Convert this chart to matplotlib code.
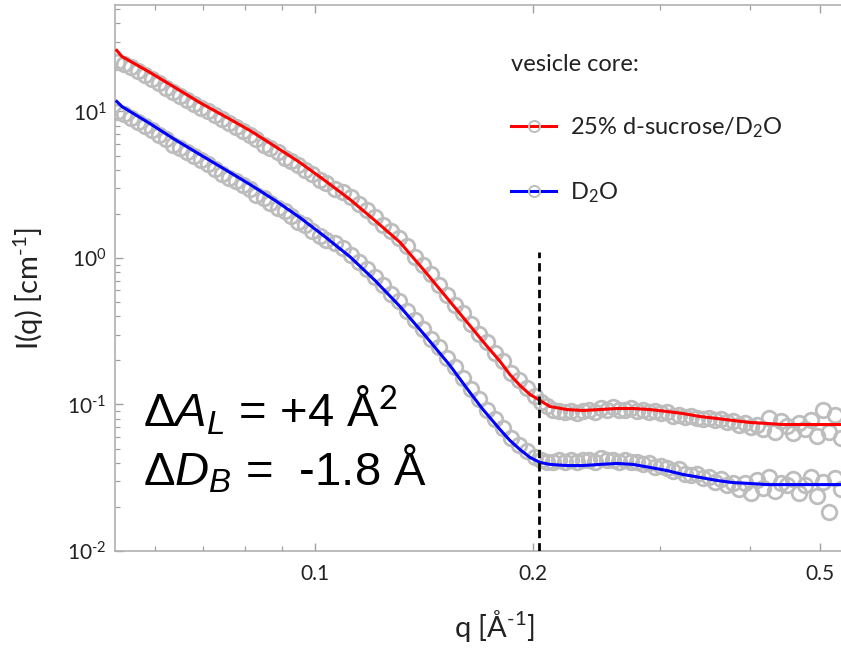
import numpy as np
import matplotlib
matplotlib.use("Agg")
import matplotlib.pyplot as plt
from matplotlib.lines import Line2D
from matplotlib.ticker import FixedLocator, NullFormatter

plt.rcParams['font.family'] = ['Lato', 'DejaVu Sans']
plt.rcParams['mathtext.fontset'] = 'custom'
plt.rcParams['mathtext.rm'] = 'Lato'
plt.rcParams['mathtext.it'] = 'Liberation Sans:italic'
plt.rcParams['mathtext.bf'] = 'Lato:bold'

# measured SANS data (shared q grid)
q_data = [0.0532, 0.0544, 0.0556, 0.0569, 0.0582, 0.0595, 0.0608, 0.0622, 0.0636, 0.0650,
          0.0665, 0.0680, 0.0695, 0.0711, 0.0727, 0.0743, 0.0760, 0.0777, 0.0794, 0.0812,
          0.0830, 0.0849, 0.0868, 0.0888, 0.0908, 0.0928, 0.0949, 0.0970, 0.0992, 0.1015,
          0.1037,
          0.1066, 0.1093, 0.1122, 0.1151, 0.1180, 0.1211, 0.1242, 0.1274, 0.1307, 0.1340,
          0.1375, 0.1410, 0.1447, 0.1484, 0.1522, 0.1562, 0.1602, 0.1643, 0.1686, 0.1729,
          0.1774, 0.1820, 0.1867, 0.1915, 0.1964, 0.2015,
          0.2054, 0.2094, 0.2134, 0.2175, 0.2217, 0.2260, 0.2304, 0.2348, 0.2394, 0.2440,
          0.2487, 0.2535, 0.2584, 0.2634, 0.2685, 0.2737, 0.2790, 0.2843, 0.2898, 0.2954,
          0.3011, 0.3069, 0.3129, 0.3189, 0.3251, 0.3313, 0.3377, 0.3443, 0.3509, 0.3577,
          0.3646, 0.3716, 0.3788, 0.3861, 0.3936, 0.4012, 0.4089, 0.4168, 0.4249, 0.4331,
          0.4414, 0.4499, 0.4586, 0.4675, 0.4765, 0.4857, 0.4951, 0.5046, 0.5144, 0.5243,
          0.5344]

I_sucrose = [21.61, 20.94, 19.97, 18.75, 17.61, 16.54, 15.53, 14.35, 13.48, 12.66,
             11.89, 11.16, 10.48, 10.00, 9.39, 8.82, 8.28, 7.78, 7.30, 6.86,
             6.44, 5.95, 5.59, 5.25, 4.85, 4.56, 4.28, 3.96, 3.72, 3.43,
             3.23,
             2.98, 2.80, 2.59, 2.32, 2.11, 1.89, 1.69, 1.52, 1.36, 1.20,
             1.02, 0.889, 0.772, 0.659, 0.563, 0.481, 0.418, 0.357, 0.305, 0.265,
             0.226, 0.197, 0.165, 0.146, 0.129, 0.115,
             0.1048, 0.0969, 0.0924, 0.0896, 0.0882, 0.0896, 0.0868, 0.0896, 0.0910, 0.0882,
             0.0939, 0.0924, 0.0954, 0.0924, 0.0910, 0.0939, 0.0896, 0.0910, 0.0882, 0.0896,
             0.0868, 0.0882, 0.0841, 0.0854, 0.0828, 0.0841, 0.0815, 0.0790, 0.0803, 0.0778,
             0.0790, 0.0754, 0.0766, 0.0719, 0.0742, 0.0697, 0.0730, 0.0675, 0.0803, 0.0644,
             0.0766, 0.0708, 0.0634, 0.0742, 0.0675, 0.0778, 0.0614, 0.0924, 0.0654, 0.0854,
             0.0595]

I_d2o = [9.84, 9.54, 8.96, 8.41, 7.90, 7.42, 6.86, 6.44, 5.95, 5.59,
         5.25, 4.93, 4.63, 4.35, 4.02, 3.77, 3.54, 3.33, 3.13, 2.94,
         2.71, 2.55, 2.39, 2.21, 2.08, 1.92, 1.77, 1.67, 1.54, 1.42,
         1.32,
         1.256, 1.161, 1.056, 0.946, 0.835, 0.736, 0.649, 0.572, 0.505, 0.438,
         0.380, 0.330, 0.282, 0.245, 0.209, 0.179, 0.1505, 0.1266, 0.1082, 0.0924,
         0.0790, 0.0686, 0.0595, 0.0525, 0.0478, 0.0435,
         0.0415, 0.0402, 0.0408, 0.0415, 0.0402, 0.0421, 0.0408, 0.0415, 0.0421, 0.0408,
         0.0428, 0.0415, 0.0421, 0.0408, 0.0415, 0.0402, 0.0408, 0.0390, 0.0396, 0.0377,
         0.0383, 0.0366, 0.0354, 0.0360, 0.0338, 0.0328, 0.0333, 0.0313, 0.0318, 0.0298,
         0.0308, 0.0280, 0.0293, 0.0263, 0.0289, 0.0247, 0.0303, 0.0271, 0.0318, 0.0255,
         0.0293, 0.0280, 0.0308, 0.0247, 0.0284, 0.0318, 0.0239, 0.0298, 0.0186, 0.0313,
         0.0263]

# model fits
q_fit = [0.0532, 0.0541, 0.0591, 0.0640, 0.0693, 0.0751, 0.0813, 0.0881, 0.0953, 0.1032,
         0.1118, 0.1211, 0.1311, 0.1420, 0.1537, 0.1638, 0.1708, 0.1803, 0.1861, 0.1921,
         0.1984, 0.2048, 0.2113, 0.2231, 0.2348, 0.2479, 0.2617, 0.2754, 0.2906, 0.3068,
         0.3228, 0.3408, 0.3597, 0.3786, 0.3997, 0.4220, 0.4440, 0.4687, 0.4994, 0.5340]

fit_sucrose = [26.1, 23.7, 18.5, 14.6, 11.5, 9.25, 7.42, 5.77, 4.49, 3.38,
               2.51, 1.80, 1.28, 0.809, 0.505, 0.346, 0.269, 0.197, 0.160, 0.135,
               0.117, 0.1065, 0.0969, 0.0924, 0.0910, 0.0924, 0.0939, 0.0939, 0.0924, 0.0896,
               0.0868, 0.0828, 0.0803, 0.0778, 0.0754, 0.0742, 0.0730, 0.0730, 0.0730, 0.0730]

fit_d2o = [11.7, 10.8, 8.28, 6.44, 5.09, 4.02, 3.18, 2.47, 1.89, 1.40,
           1.02, 0.702, 0.467, 0.296, 0.185, 0.121, 0.0924, 0.0675, 0.0568, 0.0493,
           0.0435, 0.0402, 0.0390, 0.0383, 0.0383, 0.0390, 0.0396, 0.0390, 0.0372, 0.0354,
           0.0333, 0.0318, 0.0303, 0.0293, 0.0289, 0.0284, 0.0284, 0.0284, 0.0284, 0.0284]

q_cut = 0.204
cut_top = 1.09

grey = '#bdbdbd'

fig = plt.figure(figsize=(8.41, 6.49), dpi=100)
ax = fig.add_axes([115/841, 98/649, 730/841, 546/649])

ax.plot(q_data, I_sucrose, 'o', mfc='none', mec=grey, ms=10.5, mew=2.0, zorder=2)
ax.plot(q_data, I_d2o, 'o', mfc='none', mec=grey, ms=10.5, mew=2.0, zorder=2)
ax.plot(q_fit, fit_sucrose, color='#ff0000', lw=2.2, zorder=3)
ax.plot(q_fit, fit_d2o, color='#0000ff', lw=2.2, zorder=3)
ax.plot([q_cut, q_cut], [0.01, cut_top], color='black', lw=2.0, ls=(0, (3.0, 1.8)), zorder=4)

ax.set_xscale('log')
ax.set_yscale('log')
ax.set_xlim(0.0529, 0.541)
ax.set_ylim(0.01, 53.3)

ax.xaxis.set_major_locator(FixedLocator([0.1, 0.2, 0.5]))
ax.xaxis.set_minor_locator(FixedLocator([0.06, 0.07, 0.08, 0.09, 0.3, 0.4]))
ax.xaxis.set_minor_formatter(NullFormatter())
ax.set_xticklabels(['0.1', '0.2', '0.5'])
ax.set_yticks([0.01, 0.1, 1, 10])
ax.set_yticklabels([r'10$^{\text{-}2}$', r'10$^{\text{-}1}$', '10$^{0}$', '10$^{1}$'])

for s in ax.spines.values():
    s.set_color('#b0b0b0')
    s.set_linewidth(1.2)
ax.tick_params(which='both', direction='in', top=True, right=False, color='#a0a0a0',
               labelcolor='#222222', labelsize=15)
ax.tick_params(which='major', length=6, width=1)
ax.tick_params(which='minor', length=3.5, width=0.9)
ax.tick_params(axis='x', pad=9)
ax.tick_params(axis='y', pad=6)

ax.set_xlabel(r'q [Å$^{\text{-}1}$]', fontsize=21, color='#222222')
ax.set_ylabel(r'I(q) [cm$^{\text{-}1}$]', fontsize=21, color='#222222')
ax.xaxis.set_label_coords(0.52, -0.105)
ax.yaxis.set_label_coords(-0.095, 0.48)

ax.text(0.038, 0.227, 'Δ$A_L$ = +4 Å$^2$', transform=ax.transAxes, fontsize=34,
        family='Liberation Sans', va='baseline', ha='left')
ax.text(0.038, 0.12, 'Δ$D_B$ =  -1.8 Å', transform=ax.transAxes, fontsize=34,
        family='Liberation Sans', va='baseline', ha='left')

handles = [Line2D([], [], color='#ff0000', lw=2.2, marker='o', mfc='none', mec=grey, ms=8, mew=1.4),
           Line2D([], [], color='#0000ff', lw=2.2, marker='o', mfc='none', mec=grey, ms=8, mew=1.4)]
leg = ax.legend(handles, ['25% d-sucrose/D$_2$O', 'D$_2$O'], title='vesicle core:',
                loc='upper left', bbox_to_anchor=(0.543, 0.91), frameon=False,
                fontsize=17, title_fontsize=17, labelspacing=1.7, handlelength=1.9,
                handletextpad=0.6, borderpad=0, borderaxespad=0, alignment='left')
for t in leg.get_texts():
    t.set_color('#222222')
leg.get_title().set_color('#222222')

fig.savefig('out.png', dpi=100)
